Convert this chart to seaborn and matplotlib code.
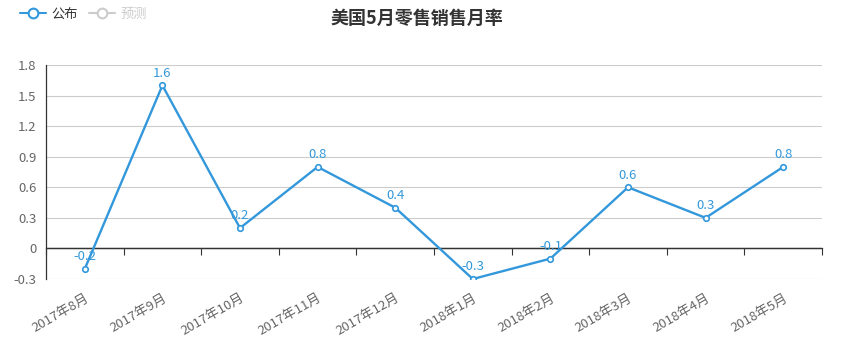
import matplotlib
matplotlib.use("Agg")
import matplotlib.pyplot as plt
from matplotlib.lines import Line2D
import seaborn as sns
import pandas as pd
import numpy as np

categories = ["2017年8月", "2017年9月", "2017年10月", "2017年11月", "2017年12月",
              "2018年1月", "2018年2月", "2018年3月", "2018年4月", "2018年5月"]
published = [-0.2, 1.6, 0.2, 0.8, 0.4, -0.3, -0.1, 0.6, 0.3, 0.8]
yticks = [-0.3, 0, 0.3, 0.6, 0.9, 1.2, 1.5, 1.8]
ytick_labels = ["-0.3", "0", "0.3", "0.6", "0.9", "1.2", "1.5", "1.8"]
title = "美国5月零售销售月率"
legend_names = ["公布", "预测"]

sns.set_style("white")
plt.rcParams['font.family'] = ['Noto Sans CJK SC', 'DejaVu Sans']

BLUE = "#3398DB"
df = pd.DataFrame({"pos": np.arange(len(categories)), "val": published})

fig = plt.figure(figsize=(8.41, 3.38), dpi=100)
ax = fig.add_axes([46/841, 1-279/338, (822-46)/841, (279-65)/338])

sns.lineplot(data=df, x="pos", y="val", ax=ax, color=BLUE, linewidth=1.7,
             marker="o", markersize=4, markerfacecolor="white",
             markeredgecolor=BLUE, markeredgewidth=1.2, zorder=5)

for x, v in zip(df["pos"], df["val"]):
    ax.annotate(f"{v:g}", (x, v), xytext=(0, 4), textcoords="offset points",
                ha="center", va="bottom", color=BLUE, fontsize=9.5, zorder=6)

ax.set_xlim(-0.5, len(categories) - 0.5)
ax.set_ylim(yticks[0], yticks[-1])
ax.set_yticks(yticks)
ax.set_yticklabels(ytick_labels)
ax.yaxis.grid(True, color="#cccccc", linewidth=0.8)
ax.set_axisbelow(True)
ax.tick_params(axis="y", colors="#333333", labelcolor="#666666", labelsize=9.5,
               length=4, width=0.8, direction="out", pad=3)

ax.set_xticks(df["pos"])
ax.set_xticklabels(categories, rotation=30, ha="right", rotation_mode="anchor",
                   color="#666666", fontsize=9.5)
ax.tick_params(axis="x", length=0, pad=9)
ax.set_xlabel("")
ax.set_ylabel("")

for s in ["top", "right"]:
    ax.spines[s].set_visible(False)
ax.spines["bottom"].set_visible(False)
ax.spines["left"].set_color("#333333")
ax.spines["left"].set_linewidth(0.9)

# zero axis line with boundary ticks
ax.axhline(0, color="#333333", linewidth=0.9, zorder=2)
frac0 = (0 - yticks[0]) / (yticks[-1] - yticks[0])
sec = ax.secondary_xaxis(frac0)
sec.set_xticks(np.arange(len(categories) + 1) - 0.5)
sec.set_xticklabels([])
sec.tick_params(length=5, width=0.8, color="#333333", direction="out")
sec.spines["bottom"].set_color("#333333")
sec.spines["bottom"].set_linewidth(0.9)

fig.text(417/841, 1-18/338, title, ha="center", va="center",
         fontsize=13, fontweight="bold", color="#333333")

handles = [
    Line2D([], [], color=BLUE, marker="o", markersize=7, markerfacecolor="white",
           markeredgecolor=BLUE, markeredgewidth=1.5, linewidth=1.5),
    Line2D([], [], color="#cccccc", marker="o", markersize=7, markerfacecolor="white",
           markeredgecolor="#cccccc", markeredgewidth=1.5, linewidth=1.5),
]
leg = fig.legend(handles, legend_names, loc="upper left", bbox_to_anchor=(12/841, 1.0),
                 ncol=2, frameon=False, fontsize=9.5, handlelength=2.0,
                 handletextpad=0.4, columnspacing=0.8, borderaxespad=0.2)
leg.get_texts()[0].set_color("#333333")
leg.get_texts()[1].set_color("#cccccc")

fig.savefig("out.png", dpi=100)
